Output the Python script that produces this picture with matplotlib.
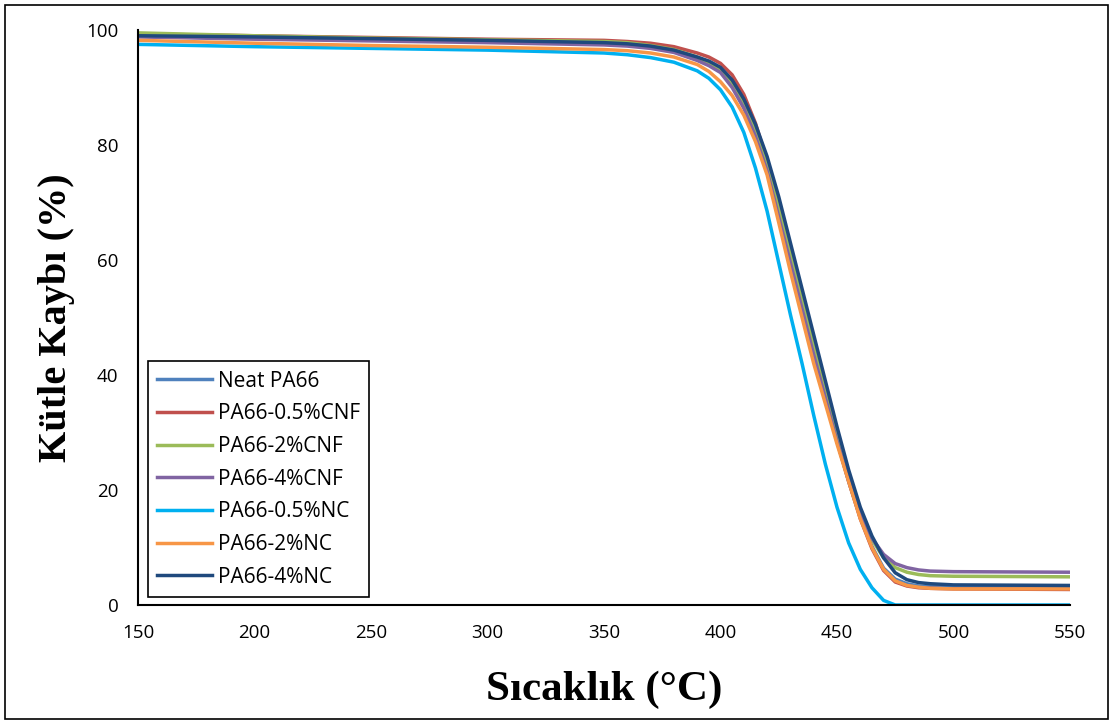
import matplotlib.pyplot as plt
from matplotlib.patches import Rectangle

# temperature grid (°C)
temp = [150, 200, 250, 300, 350,
        360, 370, 380, 390, 395,
        400, 405, 410, 415, 420,
        425, 430, 435, 440, 445,
        450, 455, 460, 465, 470,
        475, 480, 485, 490, 500,
        550]

neat_pa66 = [98.9, 98.6, 98.3, 98.0, 97.6,
             97.4, 97.0, 96.3, 95.0, 94.2,
             93.1, 90.8, 87.4, 82.5, 76.5,
             68.5, 60.0, 52.0, 44.0, 36.0,
             28.5, 21.5, 15.2, 10.2, 6.4,
             4.5, 3.7, 3.3, 3.2, 3.1,
             3.0]
cnf_05 = [99.3, 99.0, 98.7, 98.4, 98.2,
          98.0, 97.7, 97.1, 96.0, 95.3,
          94.2, 92.2, 88.8, 83.8, 77.2,
          69.2, 60.8, 52.2, 44.0, 36.0,
          28.5, 21.5, 15.0, 9.8, 6.0,
          4.0, 3.3, 3.0, 2.9, 2.8,
          2.7]
cnf_2 = [99.5, 99.0, 98.6, 98.3, 98.0,
         97.8, 97.3, 96.6, 95.3, 94.3,
         93.0, 90.6, 87.0, 82.4, 76.5,
         69.0, 61.0, 53.0, 45.0, 37.0,
         29.5, 22.5, 16.2, 11.4, 8.2,
         6.5, 5.7, 5.3, 5.1, 5.0,
         4.9]
cnf_4 = [98.8, 98.4, 98.1, 97.8, 97.4,
         97.2, 96.8, 96.1, 94.7, 93.8,
         92.6, 90.0, 86.4, 81.5, 75.5,
         67.5, 59.5, 51.5, 43.5, 36.0,
         28.5, 21.8, 16.0, 11.6, 8.8,
         7.2, 6.5, 6.1, 5.9, 5.8,
         5.7]
nc_05 = [97.5, 97.1, 96.8, 96.5, 96.0,
         95.7, 95.2, 94.4, 92.9, 91.6,
         89.6, 86.6, 82.2, 76.0, 68.5,
         59.5, 50.5, 42.0, 33.0, 24.5,
         17.0, 10.8, 6.2, 3.0, 0.8,
         0.0, 0.0, 0.0, 0.0, 0.0,
         0.0]
nc_2 = [98.2, 97.7, 97.3, 97.0, 96.6,
        96.4, 96.0, 95.3, 94.0, 92.8,
        91.0, 88.6, 85.2, 80.6, 74.8,
        66.5, 58.0, 50.0, 42.0, 35.0,
        28.0, 21.5, 15.0, 10.0, 6.2,
        4.2, 3.4, 3.1, 2.9, 2.8,
        2.8]
nc_4 = [99.0, 98.8, 98.5, 98.2, 97.8,
        97.6, 97.2, 96.5, 95.3, 94.6,
        93.5, 91.3, 88.0, 83.6, 78.0,
        71.0, 63.0, 55.0, 47.0, 39.0,
        31.0, 23.5, 17.0, 12.0, 8.2,
        5.6, 4.4, 3.9, 3.7, 3.5,
        3.4]

labels = ["Neat PA66", "PA66-0.5%CNF", "PA66-2%CNF", "PA66-4%CNF",
          "PA66-0.5%NC", "PA66-2%NC", "PA66-4%NC"]
colors = ["#4F81BD", "#C0504D", "#9BBB59", "#8064A2", "#00B0F0", "#F79646", "#1F497D"]
series = [neat_pa66, cnf_05, cnf_2, cnf_4, nc_05, nc_2, nc_4]

fig = plt.figure(figsize=(11.13, 7.24), dpi=100)
ax = fig.add_axes([138 / 1113, 1 - 605 / 724, 932 / 1113, 575 / 724])

for vals, lab, col in zip(series, labels, colors):
    ax.plot(temp, vals, color=col, lw=2.5, label=lab, solid_joinstyle="round")

ax.set_xlim(150, 550)
ax.set_ylim(0, 100)
ax.set_xticks(range(150, 551, 50))
ax.set_yticks(range(0, 101, 20))
ax.tick_params(length=0, pad=14, labelsize=13.5)
for t in ax.get_xticklabels() + ax.get_yticklabels():
    t.set_fontfamily("Open Sans")
ax.spines["top"].set_visible(False)
ax.spines["right"].set_visible(False)
ax.spines["left"].set_linewidth(1.5)
ax.spines["bottom"].set_linewidth(1.5)

ax.set_xlabel("Sıcaklık (°C)", fontfamily="Liberation Serif", fontweight="bold",
              fontsize=31, labelpad=20)
ax.set_ylabel("Kütle Kaybı (%)", fontfamily="Liberation Serif", fontweight="bold",
              fontsize=29, labelpad=8)

leg = ax.legend(loc="lower left", bbox_to_anchor=(0.0107, 0.014), fancybox=False,
                edgecolor="black", framealpha=1, handlelength=2.6, handletextpad=0.3,
                labelspacing=0.56, borderpad=0.45, borderaxespad=0,
                prop={"family": "Open Sans", "size": 15})
leg.get_frame().set_linewidth(1.2)

# outer chart border
fig.patches.append(Rectangle((5 / 1113, 5 / 724), 1 - 10 / 1113, 1 - 10 / 724,
                             transform=fig.transFigure, fill=False, edgecolor="black", lw=1.2))

fig.savefig("out.png", dpi=100)
